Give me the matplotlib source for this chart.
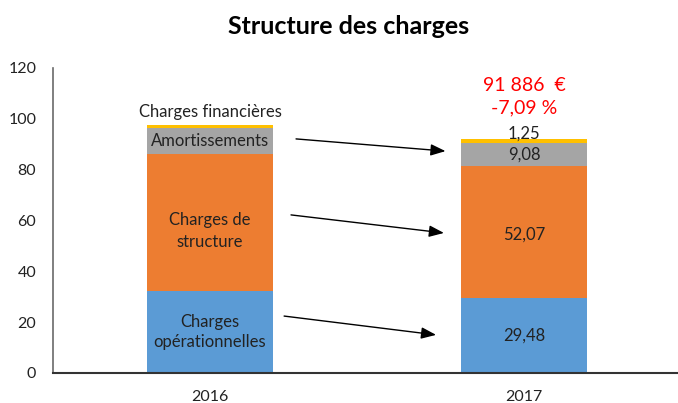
import numpy as np
import matplotlib
matplotlib.use("Agg")
import matplotlib.pyplot as plt

plt.rcParams["font.family"] = ["Lato", "DejaVu Sans"]

years = ["2016", "2017"]
operationnelles = [32.3, 29.48]
structure = [53.9, 52.07]
amortissements = [10.3, 9.08]
financieres = [1.2, 1.25]
total_label = "91 886  €"
variation_label = "-7,09 %"

C_BLUE = "#5B9BD5"
C_ORANGE = "#ED7D31"
C_GREY = "#A5A5A5"
C_YELLOW = "#FFC000"

fig = plt.figure(figsize=(6.78, 4.03), dpi=100)
ax = fig.add_axes([53 / 678, 30 / 403, 628 / 678, 305 / 403])

x = np.arange(len(years))
w = 0.4
b1 = np.array(operationnelles)
b2 = b1 + np.array(structure)
b3 = b2 + np.array(amortissements)
ax.bar(x, operationnelles, w, color=C_BLUE)
ax.bar(x, structure, w, bottom=b1, color=C_ORANGE)
ax.bar(x, amortissements, w, bottom=b2, color=C_GREY)
ax.bar(x, financieres, w, bottom=b3, color=C_YELLOW)

ax.set_xlim(-0.5, 1.5)
ax.set_ylim(0, 120)
ax.set_yticks(np.arange(0, 121, 20))
ax.set_xticks(x)
ax.set_xticklabels(years)
ax.tick_params(axis="both", length=0, labelsize=11.5, colors="#222222")
ax.tick_params(axis="y", pad=12)
ax.tick_params(axis="x", pad=12)
for s in ["top", "right"]:
    ax.spines[s].set_visible(False)
ax.spines["left"].set_color("#6a6a6a")
ax.spines["left"].set_linewidth(1.2)
ax.spines["bottom"].set_color("#333333")
ax.spines["bottom"].set_linewidth(1.5)

# 2016 category labels
fs = 12
ax.text(0, b1[0] / 2, "Charges\nopérationnelles", ha="center", va="center",
        fontsize=fs, color="#222222", linespacing=1.35)
ax.text(0, b1[0] + structure[0] / 2 - 3.3, "Charges de\nstructure", ha="center", va="center",
        fontsize=fs, color="#222222", linespacing=1.45)
ax.text(0, b2[0] + amortissements[0] / 2, "Amortissements", ha="center", va="center",
        fontsize=fs, color="#222222")
ax.text(0, b3[0] + financieres[0] + 2.0, "Charges financières", ha="center", va="bottom",
        fontsize=fs, color="#222222")

# 2017 values
ax.text(1, b1[1] / 2, f"{operationnelles[1]:.2f}".replace(".", ","), ha="center",
        va="center", fontsize=fs, color="#222222")
ax.text(1, b1[1] + structure[1] / 2 - 1.2, f"{structure[1]:.2f}".replace(".", ","),
        ha="center", va="center", fontsize=fs, color="#222222")
ax.text(1, b2[1] + amortissements[1] / 2, f"{amortissements[1]:.2f}".replace(".", ","),
        ha="center", va="center", fontsize=fs, color="#222222")
ax.text(1, b3[1] + financieres[1] - 0.8, f"{financieres[1]:.2f}".replace(".", ","),
        ha="center", va="bottom", fontsize=fs, color="#222222")
ax.text(1, 113.2, total_label, ha="center", va="center", fontsize=14, color="#FF0000")
ax.text(1, 104.2, variation_label, ha="center", va="center", fontsize=14, color="#FF0000")

# arrows from 2016 to 2017
arrows = [((0.274, 92.1), (0.75, 87.3)),
          ((0.258, 62.2), (0.745, 55.1)),
          ((0.236, 22.4), (0.72, 15.0))]
for start, end in arrows:
    ax.annotate("", xy=end, xytext=start,
                arrowprops=dict(arrowstyle="-|>,head_length=0.9,head_width=0.35",
                                color="black", lw=1.0, shrinkA=0, shrinkB=0))

fig.text(349 / 678, 1 - 27 / 403, "Structure des charges", ha="center", va="center",
         fontsize=18, fontweight="bold", color="black")

fig.savefig("out.png", dpi=100)
